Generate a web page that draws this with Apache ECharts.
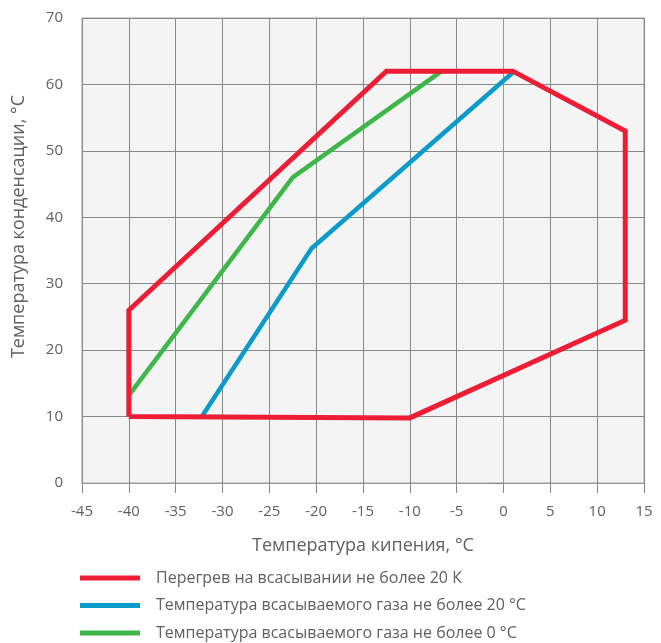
<!DOCTYPE html>
<html><head><meta charset="utf-8">
<script src="https://cdn.jsdelivr.net/npm/echarts@6/dist/echarts.min.js"></script>
<style>html,body{margin:0;padding:0;background:#fff}#c{width:661px;height:643px}</style>
</head><body><div id="c"></div>
<script>
const seriesNames = [
  'Перегрев на всасывании не более 20 К',
  'Температура всасываемого газа не более 20 °C',
  'Температура всасываемого газа не более 0 °C'
];
const redX = [-40, -40, -12.5, 1, 13, 13, -10, -40];
const redY = [10, 26, 62, 62, 53, 24.5, 9.8, 10];
const blueX = [-32.2, -20.5, 1];
const blueY = [10, 35.3, 61.8];
const greenX = [-40, -22.5, -6.6];
const greenY = [13.2, 46, 62];
const xTicks = {min: -45, max: 15, interval: 5};
const yTicks = {min: 0, max: 70, interval: 10};
const colors = ['#ee1d36', '#0a9bc9', '#3db64a'];

function pairs(xs, ys){ return xs.map((x,i)=>[x, ys[i]]); }
const chart = echarts.init(document.getElementById('c'));
const font = '"Open Sans", sans-serif';
const grey = '#606060';
chart.setOption({
  animation: false,
  textStyle: {fontFamily: font},
  grid: {left: 82, right: 17, top: 18, bottom: 160, show: true, backgroundColor: '#f4f4f4', borderColor: '#a0a0a0', borderWidth: 1},
  xAxis: {
    type: 'value', min: xTicks.min, max: xTicks.max, interval: xTicks.interval,
    name: 'Температура кипения, °C', nameLocation: 'middle', nameGap: 54,
    nameTextStyle: {fontSize: 18, color: grey, fontFamily: font},
    axisLine: {show: true, lineStyle: {color: '#999'}},
    axisTick: {show: true, length: 10, lineStyle: {color: '#888'}},
    axisLabel: {fontSize: 15, color: grey, margin: 21, fontFamily: font},
    splitLine: {show: true, lineStyle: {color: '#888', width: 1}}
  },
  yAxis: {
    type: 'value', min: yTicks.min, max: yTicks.max, interval: yTicks.interval,
    name: 'Температура конденсации, °C', nameLocation: 'middle', nameGap: 54,
    nameTextStyle: {fontSize: 18, color: grey, fontFamily: font, padding: [0, 0, 0, 48]},
    axisLine: {show: true, lineStyle: {color: '#999'}},
    axisTick: {show: true, length: 13, lineStyle: {color: '#888'}},
    axisLabel: {fontSize: 15, color: grey, margin: 19, fontFamily: font},
    splitLine: {show: true, lineStyle: {color: '#888', width: 1}}
  },
  legend: {
    orient: 'vertical', left: 80, top: 569, padding: 0, itemWidth: 60, itemHeight: 5, itemGap: 9.5,
    icon: 'rect',
    textStyle: {fontSize: 16, color: grey, fontFamily: font, padding: [0,0,0,11], lineHeight: 18},
    data: seriesNames
  },
  series: [
    {name: seriesNames[0], type: 'line', data: pairs(redX, redY), showSymbol: false, symbol: 'none', lineStyle: {width: 5, color: colors[0], join: 'miter'}, itemStyle: {color: colors[0]}, z: 3},
    {name: seriesNames[1], type: 'line', data: pairs(blueX, blueY), showSymbol: false, symbol: 'none', lineStyle: {width: 4.5, color: colors[1]}, itemStyle: {color: colors[1]}, z: 2},
    {name: seriesNames[2], type: 'line', data: pairs(greenX, greenY), showSymbol: false, symbol: 'none', lineStyle: {width: 4.5, color: colors[2]}, itemStyle: {color: colors[2]}, z: 2}
  ]
});
</script></body></html>
